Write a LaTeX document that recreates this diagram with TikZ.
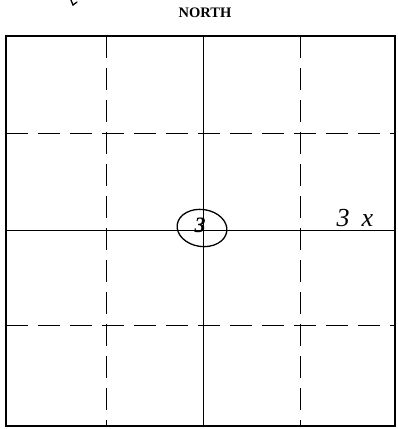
\documentclass[tikz,border=0pt]{standalone}
\usepackage{fontspec}
\setmainfont{Liberation Serif}
\usetikzlibrary{shapes.geometric}
\begin{document}
\begin{tikzpicture}[x=1pt,y=-1pt,
  frame/.style={draw=black,line width=1.8pt},
  solidline/.style={draw=black,line width=1pt},
  dashline/.style={draw=black,line width=1pt,dash pattern=on 22pt off 10pt},
  hand/.style={draw=black,line width=1.3pt,line cap=round}]
\useasboundingbox (0,0) rectangle (397,429);
\fill[white] (0,0) rectangle (397,429);
% frame corners
\coordinate (tl) at (6,36);
\coordinate (br) at (395,426);
\draw[frame] (tl) rectangle (br);
% vertical lines
\coordinate (v1t) at (106,36); \coordinate (v1b) at (106,426);
\coordinate (v2t) at (203,36); \coordinate (v2b) at (203,426);
\coordinate (v3t) at (300,36); \coordinate (v3b) at (300,426);
\draw[dashline] (v1t) -- (v1b);
\draw[solidline] (v2t) -- (v2b);
\draw[dashline] (v3t) -- (v3b);
% horizontal lines
\coordinate (h1l) at (6,133); \coordinate (h1r) at (395,133);
\coordinate (h2l) at (6,230); \coordinate (h2r) at (395,230);
\coordinate (h3l) at (6,325); \coordinate (h3r) at (395,325);
\draw[dashline] (h1l) -- (h1r);
\draw[solidline] (h2l) -- (h2r);
\draw[dashline] (h3l) -- (h3r);
% title
\node[font=\bfseries\fontsize{14.5}{16}\selectfont] (north) at (205,13) {NORTH};
% small mark at top
\coordinate (m1) at (71,0); \coordinate (m2) at (73,5); \coordinate (m3) at (77,2);
\draw[hand] (m1) -- (m2) -- (m3);
% circled 3
\node[draw=black,line width=1.3pt,ellipse,rotate=-8,minimum width=50pt,minimum height=37pt,inner sep=0pt] (three) at (202,228) {};
\node[font=\itshape\bfseries\fontsize{22}{22}\selectfont] (threetxt) at (200,225) {3};
% 3 x note
\node[font=\itshape\fontsize{26}{26}\selectfont,anchor=base west] (note) at (333,226) {3\hspace{12pt}x};
\end{tikzpicture}
\end{document}
